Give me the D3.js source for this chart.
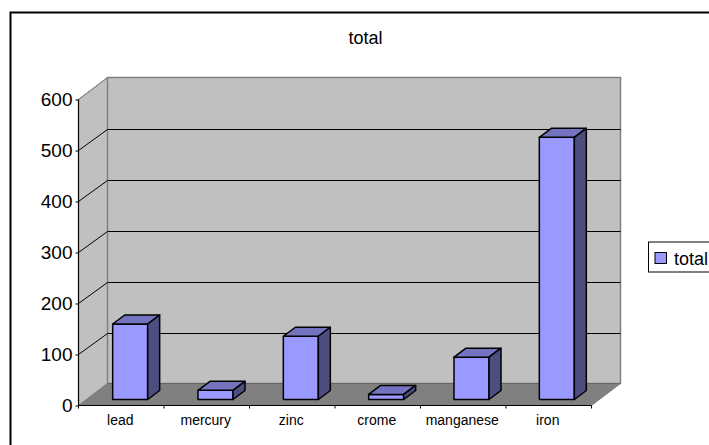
<!DOCTYPE html>
<html>
<head>
<meta charset="utf-8">
<script src="https://cdn.jsdelivr.net/npm/d3@7"></script>
<style>
  html, body { margin: 0; padding: 0; background: #fff; }
  svg { display: block; }
  text { font-family: "Liberation Sans", Arial, sans-serif; fill: #000; }
</style>
</head>
<body>
<div id="chart"></div>
<script>
const categories = ["lead", "mercury", "zinc", "crome", "manganese", "iron"];
const values = [148, 18, 124, 10, 83, 514];
const yTicks = [0, 100, 200, 300, 400, 500, 600];
const seriesName = "total";

const width = 709, height = 445;

const svg = d3.select("#chart").append("svg")
  .attr("width", width)
  .attr("height", height);

// outer frame, runs off the right side of the picture
svg.append("rect")
  .attr("x", 10.5).attr("y", 12.5)
  .attr("width", 720).attr("height", 450)
  .attr("fill", "#fff")
  .attr("stroke", "#000")
  .attr("stroke-width", 2);

// front plane scales
const x = d3.scaleBand().domain(categories).range([78.5, 591.5]);
const xBar = d3.scaleBand().domain(categories).range([87.5, 599.5]);
const y = d3.scaleLinear().domain([0, 600]).range([405.5, 99.5]);

// depth of the box and of the bars
const depthX = 29, depthY = -22;
const barDepthX = 12, barDepthY = -9;
const barWidth = 35;
const barShiftY = -6;

const left = x.range()[0], right = x.range()[1];
const y0 = y(0), yTop = y(600);
const poly = pts => pts.map(p => p.join(",")).join(" ");

// floor
svg.append("polygon")
  .attr("points", poly([[left, y0], [left + depthX, y0 + depthY], [right + depthX, y0 + depthY], [right, y0]]))
  .attr("fill", "#808080");

// side wall
svg.append("polygon")
  .attr("points", poly([[left, y0], [left + depthX, y0 + depthY], [left + depthX, yTop + depthY], [left, yTop]]))
  .attr("fill", "#c0c0c0")
  .attr("stroke", "#808080");

// back wall
svg.append("rect")
  .attr("x", left + depthX).attr("y", yTop + depthY)
  .attr("width", right - left).attr("height", y0 - yTop)
  .attr("fill", "#c0c0c0")
  .attr("stroke", "#808080")
  .attr("stroke-width", 1.5);

// gridlines on walls
const grid = svg.append("g").attr("fill", "none");
yTicks.slice(1, -1).forEach(t => {
  grid.append("polyline")
    .attr("points", poly([[left, y(t)], [left + depthX, y(t) + depthY + 1], [right + depthX, y(t) + depthY + 1]]))
    .attr("stroke", "#000")
    .attr("stroke-width", 1);
});
grid.append("line")
  .attr("x1", left).attr("y1", y0)
  .attr("x2", left + depthX).attr("y2", y0 + depthY)
  .attr("stroke", "#808080");
grid.append("line")
  .attr("x1", left).attr("y1", yTop)
  .attr("x2", left + depthX).attr("y2", yTop + depthY)
  .attr("stroke", "#808080");
grid.append("line")
  .attr("x1", left + depthX).attr("y1", y0 + depthY)
  .attr("x2", right + depthX).attr("y2", y0 + depthY)
  .attr("stroke", "#666");
grid.append("line")
  .attr("x1", right).attr("y1", y0)
  .attr("x2", right + depthX).attr("y2", y0 + depthY)
  .attr("stroke", "#808080");

// bars
const bars = svg.append("g")
  .attr("stroke", "#000")
  .attr("stroke-width", 1.5)
  .attr("stroke-linejoin", "round")
  .selectAll("g")
  .data(categories.map((c, i) => ({ c, v: values[i] })))
  .join("g");

const bx = d => xBar(d.c) + xBar.bandwidth() / 2 - barWidth / 2;
const by = d => y(d.v) + barShiftY;
const bb = y(0) + barShiftY;

bars.append("rect")
  .attr("x", bx)
  .attr("y", by)
  .attr("width", barWidth)
  .attr("height", d => bb - by(d))
  .attr("fill", "#9999ff");

bars.append("polygon")
  .attr("points", d => poly([
    [bx(d), by(d)],
    [bx(d) + barDepthX, by(d) + barDepthY],
    [bx(d) + barWidth + barDepthX, by(d) + barDepthY],
    [bx(d) + barWidth, by(d)]
  ]))
  .attr("fill", "#7373bf");

bars.append("polygon")
  .attr("points", d => poly([
    [bx(d) + barWidth, by(d)],
    [bx(d) + barWidth + barDepthX, by(d) + barDepthY],
    [bx(d) + barWidth + barDepthX, bb + barDepthY],
    [bx(d) + barWidth, bb]
  ]))
  .attr("fill", "#4d4d80");

// axes
const yAxis = d3.axisLeft(y).tickValues(yTicks).tickSize(3).tickPadding(3).tickFormat(d3.format("d"));
const gy = svg.append("g").attr("transform", `translate(${left},0)`).call(yAxis);
gy.selectAll("text").style("font-size", "19px");
gy.select(".domain").attr("d", `M0,${yTop}V${y0}`).attr("stroke-width", 1.2);

const xAxis = d3.axisBottom(x).tickSize(0).tickPadding(10);
const gx = svg.append("g").attr("transform", `translate(0,${y0})`).call(xAxis);
gx.selectAll("text").style("font-size", "14px").attr("dx", -1);
gx.select(".domain").attr("d", `M${left},0H${right}`).attr("stroke-width", 1.2);
gx.selectAll(".edge")
  .data(d3.range(categories.length + 1))
  .join("line")
  .attr("class", "edge")
  .attr("x1", i => left + i * x.step())
  .attr("x2", i => left + i * x.step())
  .attr("y1", 0).attr("y2", 3)
  .attr("stroke", "#000");

// title
svg.append("text")
  .attr("x", 365.5).attr("y", 44)
  .attr("text-anchor", "middle")
  .style("font-size", "18px")
  .text(seriesName);

// legend
const legend = svg.append("g");
legend.append("rect")
  .attr("x", 648.5).attr("y", 242)
  .attr("width", 70).attr("height", 30)
  .attr("fill", "#fff")
  .attr("stroke", "#000");
legend.append("rect")
  .attr("x", 655).attr("y", 252.5)
  .attr("width", 11.5).attr("height", 11)
  .attr("fill", "#9999ff")
  .attr("stroke", "#000");
legend.append("text")
  .attr("x", 674).attr("y", 264.5)
  .style("font-size", "18px")
  .text(seriesName);
</script>
</body>
</html>
